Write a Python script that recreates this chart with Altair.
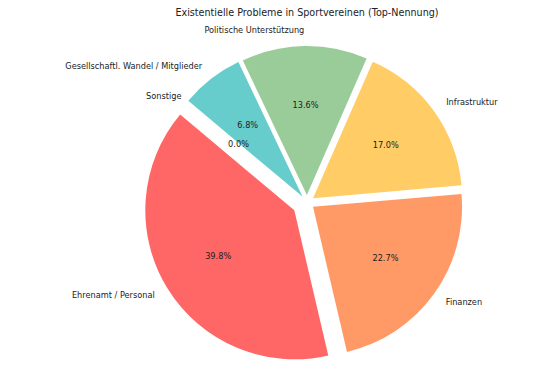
import altair as alt
import pandas as pd

# ---- data ----
categories = ["Ehrenamt / Personal", "Finanzen", "Infrastruktur",
              "Politische Unterstützung", "Gesellschaftl. Wandel / Mitglieder", "Sonstige"]
counts = [35, 20, 15, 12, 6, 0]
explode = [0.1, 0.05, 0.05, 0.05, 0.05, 0.0]
colors = ["#ff6666", "#ff9966", "#ffcc66", "#99cc99", "#66cccc", "#c2c2f0"]
title_text = "Existentielle Probleme in Sportvereinen (Top-Nennung)"

# ---- layout constants ----
W, H = 544, 337          # plot area
PAD_TOP = 20
R = 149                  # pie radius in px
CX, CY = 299, 174.5      # pie centre inside the plot area (px)
START = 140              # start angle (deg, counter-clockwise from 3 o'clock)

xs = alt.Scale(domain=[-CX / R, (W - CX) / R], nice=False, zero=False)
ys = alt.Scale(domain=[-(H - CY) / R, CY / R], nice=False, zero=False)

df = pd.DataFrame({"cat": categories, "value": counts,
                   "explode": explode, "order": list(range(len(categories)))})

base = alt.Chart(df).transform_joinaggregate(
    total="sum(value)"
).transform_window(
    cum="sum(value)", sort=[alt.SortField("order")], frame=[None, 0]
).transform_calculate(
    f0="(datum.cum - datum.value) / datum.total",
    f1="datum.cum / datum.total",
).transform_calculate(
    ms=f"({START} + 360 * datum.f0) * PI / 180",
    me=f"({START} + 360 * datum.f1) * PI / 180",
).transform_calculate(
    mid="(datum.ms + datum.me) / 2",
    a0="PI / 2 - datum.me",
    a1="PI / 2 - datum.ms",
).transform_calculate(
    cx="datum.explode * cos(datum.mid)",
    cy="datum.explode * sin(datum.mid)",
    px="(datum.explode + 0.6) * cos(datum.mid)",
    py="(datum.explode + 0.6) * sin(datum.mid)",
    lx="(datum.explode + 1.1) * cos(datum.mid)",
    ly="(datum.explode + 1.1) * sin(datum.mid)",
    pct="format(datum.value / datum.total * 100, '.1f') + '%'",
)

arcs = base.mark_arc(radius=R, stroke=None).encode(
    x=alt.X("cx:Q", scale=xs, axis=None),
    y=alt.Y("cy:Q", scale=ys, axis=None),
    theta=alt.Theta("a0:Q", scale=None, stack=None),
    theta2="a1:Q",
    color=alt.Color("cat:N", scale=alt.Scale(domain=categories, range=colors), legend=None),
)

pct = base.mark_text(font="DejaVu Sans", fontSize=8.2, color="#222222",
                     align="center", baseline="middle").encode(
    x=alt.X("px:Q", scale=xs, axis=None),
    y=alt.Y("py:Q", scale=ys, axis=None),
    text="pct:N",
)

lab_right = base.transform_filter("datum.lx > 0").mark_text(
    font="DejaVu Sans", fontSize=8.2, color="#222222", align="left", baseline="middle"
).encode(
    x=alt.X("lx:Q", scale=xs, axis=None),
    y=alt.Y("ly:Q", scale=ys, axis=None),
    text="cat:N",
)

lab_left = base.transform_filter("datum.lx <= 0").mark_text(
    font="DejaVu Sans", fontSize=8.2, color="#222222", align="right", baseline="middle"
).encode(
    x=alt.X("lx:Q", scale=xs, axis=None),
    y=alt.Y("ly:Q", scale=ys, axis=None),
    text="cat:N",
)

chart = alt.layer(arcs, pct, lab_right, lab_left).properties(
    width=W, height=H,
    autosize=alt.AutoSizeParams(type="none"),
    padding={"left": 0, "right": 0, "top": PAD_TOP, "bottom": 0},
    title=alt.TitleParams(
        text=title_text, font="DejaVu Sans", fontSize=9.6, fontWeight="normal",
        color="#222222", anchor="middle", frame="group", offset=0.5,
        baseline="alphabetic", dx=CX - W / 2,
    ),
).configure_view(stroke=None)

chart.save("out.html", embed_options={"renderer": "svg", "actions": False})
